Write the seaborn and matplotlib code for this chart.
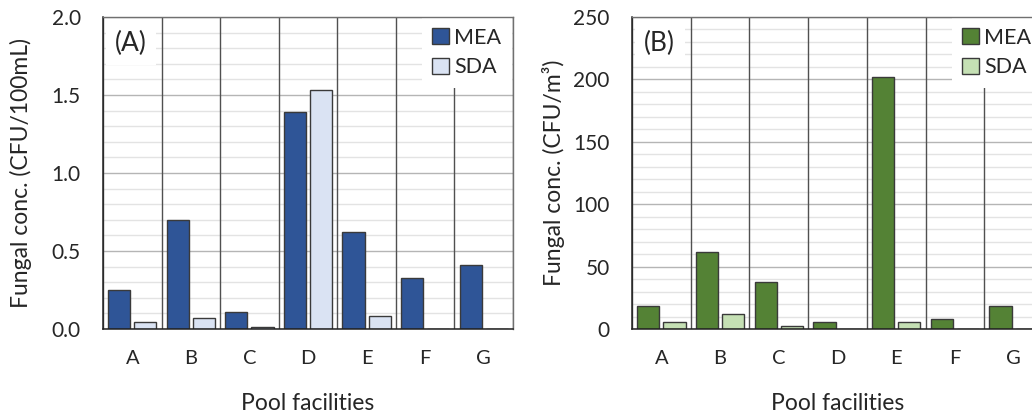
import matplotlib
matplotlib.use("Agg")
import matplotlib.pyplot as plt
from matplotlib.ticker import MultipleLocator, FormatStrFormatter
import numpy as np
import pandas as pd
import seaborn as sns

sns.set_style("white")
plt.rcParams["font.family"] = ["Lato", "DejaVu Sans"]

# Values
pools = ["A", "B", "C", "D", "E", "F", "G"]
media = ["MEA", "SDA"]
water_mea = [0.25, 0.70, 0.11, 1.39, 0.625, 0.325, 0.41]
water_sda = [0.047, 0.07, 0.011, 1.53, 0.083, 0.0, 0.0]
air_mea = [18.2, 61.7, 37.9, 5.9, 201.7, 8.0, 18.2]
air_sda = [5.9, 12.0, 2.1, 0.0, 5.9, 0.0, 0.0]

blues = ["#2F5597", "#DAE3F3"]
greens = ["#548235", "#C5E0B4"]


def long_table(mea, sda):
    return pd.DataFrame({
        "pool": pools * 2,
        "medium": ["MEA"] * len(pools) + ["SDA"] * len(pools),
        "conc": mea + sda,
    })


def draw_panel(ax, df, colors, ymax, major, minor, fmt, ylabel, tag, ypad):
    sns.barplot(data=df, x="pool", y="conc", hue="medium", hue_order=media,
                palette=colors, width=0.89, gap=0.15, edgecolor="#3a3a3a",
                linewidth=1.0, saturation=1, ax=ax, zorder=3)
    ax.set_xlim(-0.5, len(pools) - 0.5)
    ax.set_ylim(0, ymax)

    # category boundaries as major ticks/grid, labels on minor ticks
    ax.set_xticks(np.arange(-0.5, len(pools), 1.0))
    ax.set_xticklabels([])
    ax.set_xticks(np.arange(len(pools)), minor=True)
    ax.set_xticklabels(pools, minor=True, fontsize=14.5)
    ax.tick_params(axis="x", which="major", direction="out", length=7,
                   width=1, color="#555555")
    ax.tick_params(axis="x", which="minor", length=0, pad=15)
    ax.xaxis.grid(True, which="major", color="#505050", linewidth=1.0)

    ax.yaxis.set_major_locator(MultipleLocator(major))
    ax.yaxis.set_minor_locator(MultipleLocator(minor))
    ax.yaxis.set_major_formatter(FormatStrFormatter(fmt))
    ax.tick_params(axis="y", which="both", direction="out", length=6,
                   width=1, color="#404040", labelsize=15, pad=10)
    ax.yaxis.grid(True, which="major", color="#b5b5b5", linewidth=1.0)
    ax.yaxis.grid(True, which="minor", color="#e3e3e3", linewidth=1.0)
    # horizontal grid at the very back, category separators above it
    ax.yaxis.set_zorder(0.5)
    ax.xaxis.set_zorder(1.0)

    for side in ["left", "bottom"]:
        ax.spines[side].set_color("#202020")
        ax.spines[side].set_linewidth(1.1)
    for side in ["top", "right"]:
        ax.spines[side].set_color("#707070")
        ax.spines[side].set_linewidth(1.0)
    for sp in ax.spines.values():
        sp.set_zorder(7)

    ax.set_xlabel("Pool facilities", fontsize=16.5, labelpad=19)
    ax.set_ylabel(ylabel, fontsize=16.5, labelpad=ypad)

    ax.text(0.03, 0.955, tag, transform=ax.transAxes, fontsize=19,
            ha="left", va="top", zorder=6,
            bbox=dict(boxstyle="square,pad=0.35", facecolor="white",
                      edgecolor="none"))

    handles, labels = ax.get_legend_handles_labels()
    leg = ax.legend(handles, labels, loc="upper right",
                    bbox_to_anchor=(0.997, 1.0), borderaxespad=0,
                    frameon=True, fancybox=False, framealpha=1,
                    facecolor="white", edgecolor="none", fontsize=15.5,
                    handlelength=0.75, handleheight=0.75, handletextpad=0.25,
                    labelspacing=0.45, borderpad=0.5)
    leg.set_zorder(6)


fig = plt.figure(figsize=(10.32, 4.16), dpi=100)
ax1 = fig.add_axes([103 / 1032, 87 / 416, 410 / 1032, 312 / 416])
ax2 = fig.add_axes([632 / 1032, 87 / 416, 411 / 1032, 312 / 416])

draw_panel(ax1, long_table(water_mea, water_sda), blues, 2.0, 0.5, 0.1,
           "%.1f", "Fungal conc. (CFU/100mL)", "(A)", 14)
draw_panel(ax2, long_table(air_mea, air_sda), greens, 250, 50, 10,
           "%d", "Fungal conc. (CFU/m³)", "(B)", 6)

fig.savefig("out.png", dpi=100)
plt.close(fig)
